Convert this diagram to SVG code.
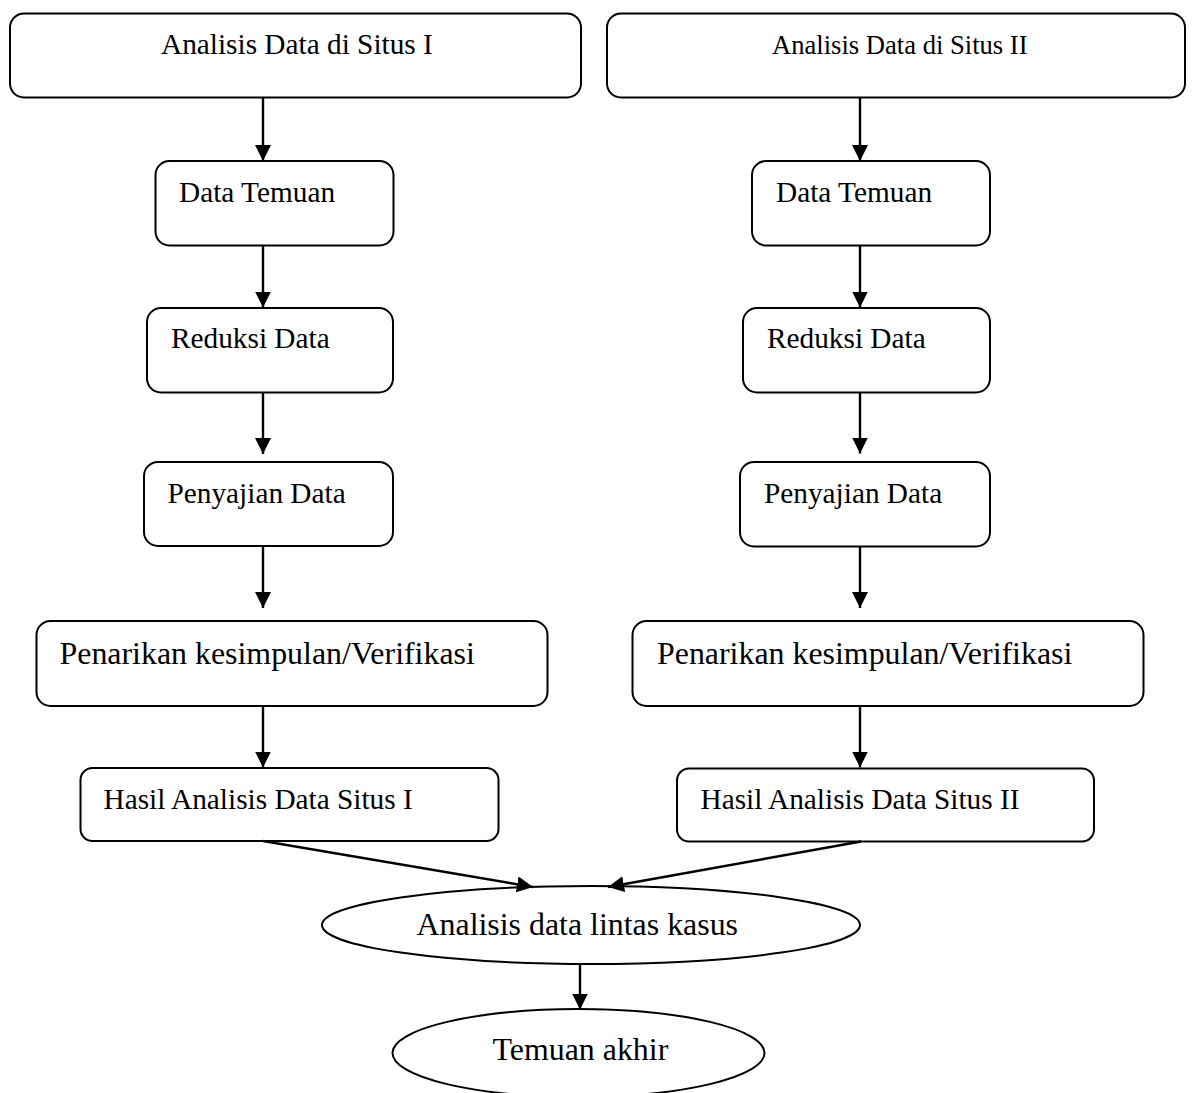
<svg xmlns="http://www.w3.org/2000/svg" width="1195" height="1093" viewBox="0 0 1195 1093">
<style>
.box{fill:#fff;stroke:#000;stroke-width:2}
.t{font-family:"Liberation Serif","Times New Roman",serif;fill:#000}
.conn line{stroke:#000;stroke-width:2.4}
</style>
<defs>
<marker id="ah" markerUnits="userSpaceOnUse" markerWidth="18" markerHeight="17" refX="16" refY="8" orient="auto">
<path d="M0,0 L16,8 L0,16 z" fill="#000"/>
</marker>
</defs>
<rect width="1195" height="1093" fill="#fff"/>
<g id="n-situs1"><rect class="box" x="10" y="13.5" width="571" height="84" rx="14"/><text class="t" x="161" y="54" font-size="29.3">Analisis Data di Situs I</text></g>
<g id="n-situs2"><rect class="box" x="607" y="13.5" width="578" height="84" rx="14"/><text class="t" x="772" y="53.5" font-size="26.6">Analisis Data di Situs II</text></g>
<g id="n-temuan1"><rect class="box" x="155.5" y="161" width="238" height="84.5" rx="14"/><text class="t" x="179" y="201.5" font-size="29.3">Data Temuan</text></g>
<g id="n-temuan2"><rect class="box" x="752" y="161" width="238" height="84.5" rx="14"/><text class="t" x="776" y="201.5" font-size="29.3">Data Temuan</text></g>
<g id="n-reduksi1"><rect class="box" x="147" y="308" width="246" height="84.5" rx="14"/><text class="t" x="171" y="347.5" font-size="29.3">Reduksi Data</text></g>
<g id="n-reduksi2"><rect class="box" x="743" y="308" width="247" height="84.5" rx="14"/><text class="t" x="767" y="347.5" font-size="29.3">Reduksi Data</text></g>
<g id="n-penyajian1"><rect class="box" x="144" y="462" width="249" height="84" rx="14"/><text class="t" x="167.5" y="503" font-size="29.3">Penyajian Data</text></g>
<g id="n-penyajian2"><rect class="box" x="740" y="462" width="250" height="84.5" rx="14"/><text class="t" x="764" y="502.5" font-size="29.3">Penyajian Data</text></g>
<g id="n-penarikan1"><rect class="box" x="36.5" y="621" width="511" height="85" rx="14"/><text class="t" x="59.5" y="663.5" font-size="31.9">Penarikan kesimpulan/Verifikasi</text></g>
<g id="n-penarikan2"><rect class="box" x="632.5" y="621" width="511" height="85" rx="14"/><text class="t" x="657" y="663.5" font-size="31.9">Penarikan kesimpulan/Verifikasi</text></g>
<g id="n-hasil1"><rect class="box" x="80.5" y="768" width="418" height="73" rx="12"/><text class="t" x="103.5" y="808.5" font-size="29.3">Hasil Analisis Data Situs I</text></g>
<g id="n-hasil2"><rect class="box" x="677" y="768.5" width="417" height="73" rx="12"/><text class="t" x="700.5" y="808.5" font-size="29.3">Hasil Analisis Data Situs II</text></g>
<g id="n-lintas"><ellipse class="box" cx="591" cy="925" rx="269" ry="39"/><text class="t" x="416.5" y="935" font-size="31.9">Analisis data lintas kasus</text></g>
<g id="n-akhir"><ellipse class="box" cx="578.5" cy="1053" rx="186" ry="44"/><text class="t" x="492.5" y="1060" font-size="31.9">Temuan akhir</text></g>
<g id="connectors" class="conn">
<line x1="263" y1="98" x2="263" y2="161" marker-end="url(#ah)"/>
<line x1="263" y1="245.5" x2="263" y2="307.5" marker-end="url(#ah)"/>
<line x1="263" y1="392.5" x2="263" y2="454" marker-end="url(#ah)"/>
<line x1="263" y1="546" x2="263" y2="608" marker-end="url(#ah)"/>
<line x1="263" y1="706" x2="263" y2="767.5" marker-end="url(#ah)"/>
<line x1="860" y1="98" x2="860" y2="161" marker-end="url(#ah)"/>
<line x1="860" y1="245.5" x2="860" y2="307.5" marker-end="url(#ah)"/>
<line x1="860" y1="392.5" x2="860" y2="453.5" marker-end="url(#ah)"/>
<line x1="860" y1="546.5" x2="860" y2="608" marker-end="url(#ah)"/>
<line x1="860" y1="706" x2="860" y2="767.5" marker-end="url(#ah)"/>
<line x1="263" y1="841" x2="533" y2="887" marker-end="url(#ah)"/>
<line x1="861" y1="841.5" x2="608" y2="887" marker-end="url(#ah)"/>
<line x1="580" y1="964" x2="580" y2="1009.5" marker-end="url(#ah)"/>
</g>
</svg>
